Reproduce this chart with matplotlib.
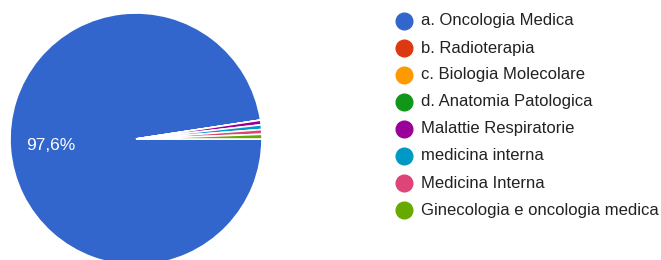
import matplotlib
matplotlib.use("Agg")
import matplotlib.pyplot as plt
from matplotlib.lines import Line2D

# -------------------------------------------------
# Data
# -------------------------------------------------
labels = [
    "a. Oncologia Medica", "b. Radioterapia", "c. Biologia Molecolare",
    "d. Anatomia Patologica", "Malattie Respiratorie", "medicina interna",
    "Medicina Interna", "Ginecologia e oncologia medica",
]
counts = [163, 0, 0, 0, 1, 1, 1, 1]
colors = ["#3366cc", "#dc3912", "#ff9900", "#109618",
          "#990099", "#0099c6", "#dd4477", "#66aa00"]

plt.rcParams["font.family"] = ["Liberation Sans", "DejaVu Sans"]

W, H = 661, 260
fig = plt.figure(figsize=(W / 100, H / 100), dpi=100)

# pie axes: centre (136, 139) px, radius 126 px
cx, cy, r = 136, 139, 126
ax = fig.add_axes([(cx - r) / W, (H - cy - r) / H, 2 * r / W, 2 * r / H])


def pct_label(p):
    return f"{p:.1f}%".replace(".", ",") if p > 5 else ""


wedges, texts, autotexts = ax.pie(
    counts, colors=colors, startangle=0, counterclock=False,
    autopct=pct_label, pctdistance=0.68,
    wedgeprops=dict(edgecolor="white", linewidth=1.2),
    textprops=dict(color="white", fontsize=12.5),
)
ax.set_xlim(-1, 1)
ax.set_ylim(-1, 1)
for w in wedges:
    w.set_clip_on(False)

# -------------------------------------------------
# Legend (manual)
# -------------------------------------------------
y0, step = 21, 27
for i, (lab, col) in enumerate(zip(labels, colors)):
    y = 1 - (y0 + i * step) / H
    fig.add_artist(Line2D([404 / W], [y], marker="o", markersize=12,
                          color=col, linestyle="none",
                          transform=fig.transFigure))
    fig.text(421 / W, y, lab, fontsize=12, color="#222222",
             va="center", ha="left")

fig.savefig("out.png", dpi=100)
